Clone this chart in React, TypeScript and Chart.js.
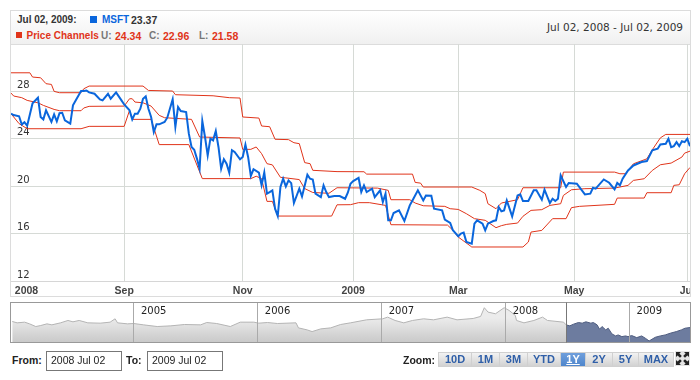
import React, { useEffect, useRef } from "react";
import { Chart, registerables } from "chart.js";

Chart.register(...registerables);

// trading-day index (0 = Jul 02 2008, 252 = Jul 02 2009) and price
const msftDays = [0,1,3,4,5,6,8,10,11,12,13,15,16,17,18,19,20,22,23,24,26,27,28,29,31,33,34,36,37,39,41,42,44,45,46,47,48,49,50,51,52,53,54,55,57,58,60,61,62,63,65,66,67,68,69,70,71,72,73,74,75,76,77,78,79,80,81,82,83,85,86,87,88,89,90,92,93,94,95,96,97,98,99,100,101,102,103,104,105,107,108,110,111,112,113,115,116,117,118,120,122,124,125,126,127,129,130,131,132,134,135,137,138,139,140,141,142,144,146,148,149,151,153,154,156,157,160,161,163,164,166,167,168,169,171,172,173,175,176,177,179,180,181,182,183,184,186,188,189,190,192,194,195,197,198,200,201,202,203,204,206,207,210,213,215,216,217,220,222,224,225,226,227,229,231,234,236,238,240,241,243,244,245,246,247,248,249,250,251,252];
const msftPrice = [26.12,26.0,25.9,25.2,25.4,25.1,27.0,27.47,25.84,25.64,26.4,25.42,26.06,25.47,26.17,26.2,25.56,25.28,26.82,27.24,28.03,28.03,28.08,27.92,27.8,27.33,27.24,27.8,27.38,27.92,27.24,26.9,26.4,25.64,26.12,26.12,26.54,27.38,27.58,26.54,25.84,24.57,25.22,25.22,25.42,25.78,27.33,25.0,26.68,26.34,26.26,24.43,23.31,23.08,22.33,21.48,25.5,24.15,22.6,24.01,23.87,24.66,23.31,21.48,22.27,21.9,21.15,23.03,22.89,22.27,22.47,23.5,22.47,20.87,21.43,21.15,20.08,21.15,19.37,19.5,19.65,18.1,17.48,19.93,20.63,19.98,20.49,20.26,18.58,19.79,19.14,20.97,20.63,20.57,19.37,19.08,20.07,19.51,19.08,19.17,19.17,18.94,19.45,20.21,20.43,20.71,19.51,20.07,19.51,19.79,19.08,19.65,18.66,19.37,17.12,17.12,17.74,17.96,17.06,18.38,18.8,19.65,18.8,19.22,19.2,18.1,17.96,17.18,16.9,16.28,15.77,16.0,16.08,15.3,15.15,16.84,17.12,16.84,16.28,16.84,17.06,17.12,18.24,17.88,17.96,18.8,17.45,19.22,19.31,18.75,18.75,19.65,19.65,18.86,19.71,18.58,18.94,18.75,18.94,20.91,19.93,20.27,20.21,19.31,19.37,19.87,19.79,20.57,20.29,19.73,20.27,20.07,20.63,21.33,21.75,22.04,22.12,23.02,23.16,23.52,23.58,24.0,23.3,23.38,23.72,23.38,23.8,23.72,24.0,23.37];

const upperDays = [0,7,8,11,13,15,16,18,26,27,29,49,51,60,61,75,81,85,86,92,93,96,98,103,105,107,109,111,112,121,131,132,149,150,152,153,171,174,176,177,180,182,188,190,204,205,224,226,228,231,236,238,241,243,252];
const upperPrice = [29.57,29.57,29.21,29.15,28.65,28.59,28.0,27.89,27.89,28.22,28.45,28.45,28.08,28.03,27.72,27.63,27.47,27.44,25.84,25.75,25.08,25.02,23.96,23.93,23.67,23.59,21.99,21.9,21.34,21.23,21.22,21.02,21.02,20.32,20.26,19.93,19.93,19.65,19.37,18.52,18.1,18.58,18.86,19.87,19.87,21.19,21.19,21.05,21.05,21.89,22.31,23.07,24.08,24.37,24.37];

const centerDays = [0,1,4,6,10,12,16,18,26,27,29,42,44,45,46,49,52,55,57,67,70,85,86,89,91,93,95,97,100,102,107,109,112,118,121,136,140,141,148,150,153,161,163,166,169,172,176,180,182,184,188,190,193,197,200,204,205,208,213,224,229,231,235,238,241,245,249,250,252];
const centerPrice = [27.86,27.61,27.47,27.24,27.04,26.82,26.48,26.37,26.37,26.6,26.74,26.76,27.38,27.38,27.1,27.04,26.76,25.98,25.78,25.64,24.15,24.07,23.11,23.11,23.31,22.75,21.9,21.8,20.75,20.7,20.56,19.8,19.47,19.4,19.87,19.84,19.65,18.86,18.86,18.58,18.35,18.3,18.1,18.04,17.68,17.26,17.12,16.5,16.67,16.78,16.89,17.46,17.96,18.02,18.38,18.52,19.22,19.7,19.79,19.84,20.07,20.49,20.63,21.33,21.81,21.95,22.46,22.79,22.96];

const lowerDays = [0,3,6,26,29,42,44,45,52,55,66,71,89,91,93,95,97,99,119,121,126,129,133,139,141,162,164,166,171,190,192,193,197,201,206,208,211,224,225,235,236,245,246,248,250,252];
const lowerPrice = [26.12,25.28,24.85,24.85,25.05,25.05,26.4,25.64,25.64,23.51,23.51,20.64,20.64,20.84,20.64,18.72,18.72,17.48,17.48,18.43,18.44,18.61,18.61,18.38,16.75,16.72,16.28,15.71,14.87,14.87,15.29,16.13,16.27,17.26,17.26,18.19,18.3,18.47,19.0,19.0,19.45,19.45,20.07,20.12,21.05,21.58];

// x axis: position of each tick in trading days and its label
const monthTickDays = [5.75,42,86,127,166,209,251];
const monthTickLabels = ["2008","Sep","Nov","2009","Mar","May","Jul"];
const priceTicks = [12,16,20,24,28];

// overview strip: whole history, in fractional years
const navYears = [2004.02,2004.06,2004.12,2004.16,2004.21,2004.25,2004.30,2004.34,2004.41,2004.47,2004.51,2004.56,2004.63,2004.73,2004.81,2004.85,2004.87,2004.95,2005.0,2005.08,2005.19,2005.30,2005.41,2005.54,2005.59,2005.67,2005.78,2005.86,2005.97,2006.01,2006.08,2006.16,2006.31,2006.33,2006.40,2006.44,2006.51,2006.59,2006.67,2006.75,2006.88,2007.01,2007.05,2007.11,2007.18,2007.25,2007.34,2007.42,2007.53,2007.61,2007.74,2007.80,2007.83,2007.86,2007.92,2007.99,2008.03,2008.08,2008.09,2008.15,2008.23,2008.30,2008.34,2008.47,2008.49,2008.52,2008.55,2008.59,2008.62,2008.65,2008.69,2008.71,2008.74,2008.76,2008.78,2008.81,2008.83,2008.86,2008.89,2008.91,2008.94,2008.97,2008.99,2009.02,2009.06,2009.10,2009.13,2009.16,2009.21,2009.25,2009.29,2009.33,2009.38,2009.42,2009.45,2009.49];
const navPrices = [27.83,26.96,27.39,26.3,24.57,25.22,26.3,25.65,26.96,28.48,27.61,28.48,26.96,26.74,27.39,29.57,26.96,26.3,26.52,25.65,24.57,25.0,25.87,25.65,27.17,26.52,24.57,27.39,27.39,26.74,27.17,26.52,26.96,23.7,22.39,21.3,23.04,23.7,25.87,26.96,28.91,29.57,30.65,28.48,26.96,28.48,29.57,28.91,30.65,28.91,29.78,31.09,36.74,33.91,32.83,36.74,35.0,31.74,28.48,26.96,28.48,30.65,28.48,27.39,25.65,25.0,26.09,27.17,26.74,27.61,26.74,27.17,25.65,22.83,24.57,22.39,23.48,19.78,18.48,19.13,18.04,18.48,18.04,18.7,17.39,18.48,16.96,15.22,17.61,18.48,19.13,20.22,21.3,22.39,23.48,23.91];
const navYearTicks = [2005,2006,2007,2008,2009];
const selectionStart = 2008.49;

const rangeButtons = ["10D","1M","3M","YTD","1Y","2Y","5Y","MAX"];
const rangeButtonEdges = [438,472,500,528,561,586,613,639,674];
const activeRange = "1Y";

const RED = "#e0341a";
const BLUE = "#0a66dc";
const GRID = "#d6dad6";
const SANS = '"Liberation Sans", Arial, sans-serif';
const WIDE = '"DejaVu Sans", Verdana, sans-serif';

const pairs = (xs: number[], ys: number[]) => xs.map((x, i) => ({ x, y: ys[i] }));
const noPadding = (s: any) => {
  s.paddingLeft = 0;
  s.paddingRight = 0;
  s.paddingTop = 0;
  s.paddingBottom = 0;
};

function Label(p: { x: number; y: number; c?: string; b?: boolean; s?: number; f?: string; r?: number; children: React.ReactNode }) {
  const st: React.CSSProperties = {
    position: "absolute",
    top: p.y,
    lineHeight: "14px",
    height: 14,
    whiteSpace: "nowrap",
    color: p.c || "#333",
    fontWeight: p.b ? 700 : 400,
    fontSize: p.s || 10,
    fontFamily: p.f || SANS,
  };
  if (p.r !== undefined) st.right = 700 - p.r;
  else st.left = p.x;
  return <div style={st}>{p.children}</div>;
}

const Box = (p: { x: number; y: number; w: number; h: number; style?: React.CSSProperties }) => (
  <div style={{ position: "absolute", left: p.x, top: p.y, width: p.w, height: p.h, boxSizing: "border-box", ...p.style }} />
);

export default function App() {
  const mainRef = useRef<HTMLCanvasElement>(null);
  const navRef = useRef<HTMLCanvasElement>(null);

  useEffect(() => {
    const line = (label: string, xs: number[], ys: number[], color: string, width: number) => ({
      label,
      data: pairs(xs, ys),
      borderColor: color,
      borderWidth: width,
      pointRadius: 0,
      tension: 0,
      fill: false,
    });

    const main = new Chart(mainRef.current!, {
      type: "line",
      data: {
        datasets: [
          line("MSFT", msftDays, msftPrice, BLUE, 2),
          line("Upper", upperDays, upperPrice, RED, 1),
          line("Center", centerDays, centerPrice, RED, 1),
          line("Lower", lowerDays, lowerPrice, RED, 1),
        ],
      },
      options: {
        animation: false,
        responsive: false,
        parsing: false,
        normalized: true,
        layout: { padding: 0, autoPadding: false },
        plugins: { legend: { display: false }, tooltip: { enabled: false } },
        scales: {
          x: {
            type: "linear",
            min: 0,
            max: 252,
            afterFit: (s: any) => { s.height = 15; noPadding(s); },
            afterBuildTicks: (s: any) => { s.ticks = monthTickDays.map((value) => ({ value })); },
            grid: {
              color: (ctx: any) => (ctx.index === 0 ? "rgba(0,0,0,0)" : GRID),
              drawTicks: false,
            },
            border: { display: false },
            ticks: {
              autoSkip: false,
              maxRotation: 0,
              padding: 4,
              color: "#444",
              font: { family: SANS, size: 10.5, weight: "bold" },
              callback: (_v: any, i: number) => monthTickLabels[i],
            },
          },
          y: {
            type: "linear",
            min: 12,
            max: 32,
            afterFit: (s: any) => { s.width = 0; noPadding(s); },
            afterBuildTicks: (s: any) => { s.ticks = priceTicks.map((value) => ({ value })); },
            grid: { color: GRID, drawTicks: false },
            border: { display: false },
            ticks: {
              mirror: true,
              padding: 6,
              labelOffset: -6,
              color: "#333",
              font: { family: WIDE, size: 10 },
            },
          },
        },
      },
    } as any);

    const navCtx = navRef.current!.getContext("2d")!;
    const grey = navCtx.createLinearGradient(0, 15, 0, 40);
    grey.addColorStop(0, "#ececec");
    grey.addColorStop(1, "#c8c8c8");

    const splitAt = navYears.indexOf(selectionStart);
    const nav = new Chart(navRef.current!, {
      type: "line",
      data: {
        datasets: [
          {
            label: "History",
            data: pairs(navYears.slice(0, splitAt + 1), navPrices.slice(0, splitAt + 1)),
            borderColor: "#b4b4b4",
            borderWidth: 1,
            backgroundColor: grey,
            fill: "start",
            pointRadius: 0,
            tension: 0,
          },
          {
            label: "Selected",
            data: pairs(navYears.slice(splitAt), navPrices.slice(splitAt)),
            borderColor: "#4f5d80",
            borderWidth: 1,
            backgroundColor: "#6d7c9f",
            fill: "start",
            pointRadius: 0,
            tension: 0,
          },
        ],
      },
      options: {
        animation: false,
        responsive: false,
        parsing: false,
        layout: { padding: 0, autoPadding: false },
        plugins: { legend: { display: false }, tooltip: { enabled: false } },
        scales: {
          x: {
            type: "linear",
            position: "top",
            min: 2004.01,
            max: 2009.49,
            afterFit: (s: any) => { s.height = 0; noPadding(s); },
            afterBuildTicks: (s: any) => { s.ticks = navYearTicks.map((value) => ({ value })); },
            grid: { color: "#aaaaaa", drawTicks: false, z: 1 },
            border: { display: false },
            ticks: {
              mirror: true,
              autoSkip: false,
              maxRotation: 0,
              padding: 2,
              labelOffset: 20,
              color: "#222",
              z: 2,
              font: { family: WIDE, size: 10 },
              callback: (v: any) => String(v),
            },
          },
          y: { type: "linear", display: false, min: 13.9, max: 39.8 },
        },
      },
    } as any);

    return () => {
      main.destroy();
      nav.destroy();
    };
  }, []);

  return (
    <div style={{ position: "absolute", left: 0, top: 0, width: 700, height: 380, overflow: "hidden", background: "#fff" }}>
      {/* title bar */}
      <Box x={10} y={10} w={681} h={35} style={{ border: "1px solid #dcdcdc", background: "linear-gradient(#ffffff,#f0f0f0)" }} />
      <Label x={17} y={13} b c="#333">Jul 02, 2009:</Label>
      <Box x={90} y={16} w={7} h={7} style={{ background: BLUE }} />
      <Label x={102} y={13} b c={BLUE}>MSFT</Label>
      <Label x={131} y={13} b c="#333" s={10.5}>23.37</Label>
      <Box x={16} y={32} w={6} h={6} style={{ background: RED }} />
      <Label x={26.5} y={29} b c={RED}>Price Channels</Label>
      <Label x={101} y={29} b c="#777">U:</Label>
      <Label x={115} y={29} b c={RED} s={10.5}>24.34</Label>
      <Label x={149} y={29} b c="#777">C:</Label>
      <Label x={163} y={29} b c={RED} s={10.5}>22.96</Label>
      <Label x={199} y={29} b c="#777">L:</Label>
      <Label x={212} y={29} b c={RED} s={10.5}>21.58</Label>
      <Label x={0} r={683} y={20} c="#333" s={10.5} f={WIDE}>Jul 02, 2008 - Jul 02, 2009</Label>

      {/* main plot frame */}
      <Box x={10} y={44} w={681} h={253} style={{ border: "1px solid #dcdcdc", borderTop: "none" }} />
      <canvas ref={mainRef} width={679} height={252} style={{ position: "absolute", left: 11, top: 44 }} />
      <Box x={11} y={281} w={679} h={1} style={{ background: "#d6d6d6" }} />

      {/* overview strip */}
      <Box x={566} y={303} w={124} h={40} style={{ background: "#fff" }} />
      <canvas ref={navRef} width={679} height={40} style={{ position: "absolute", left: 11, top: 303 }} />
      <Box x={10} y={302} w={557} h={41} style={{ border: "1px solid #999" }} />
      <Box x={566} y={302} w={125} h={41} style={{ borderTop: "1px solid #999", borderRight: "1px solid #999", borderBottom: "1px solid #999", borderLeft: "1px solid #777" }} />

      {/* date range inputs */}
      <Label x={12} y={353} b s={10.5} c="#222">From:</Label>
      <Box x={46} y={351} w={76} h={20} style={{ border: "1px solid #777" }} />
      <Label x={51} y={353} s={10.5} c="#222">2008 Jul 02</Label>
      <Label x={126} y={353} b s={10.5} c="#222">To:</Label>
      <Box x={147} y={351} w={76} h={20} style={{ border: "1px solid #777" }} />
      <Label x={152} y={353} s={10.5} c="#222">2009 Jul 02</Label>

      {/* zoom buttons */}
      <Label x={403} y={353} b s={10.5} c="#222">Zoom:</Label>
      {rangeButtons.map((b, i) => {
        const left = rangeButtonEdges[i];
        const w = rangeButtonEdges[i + 1] - left;
        const on = b === activeRange;
        return (
          <div
            key={b}
            style={{
              position: "absolute",
              left,
              top: 352,
              width: w,
              height: 15,
              boxSizing: "border-box",
              border: "1px solid #d0d0d0",
              borderLeftWidth: i === 0 ? 1 : 0,
              background: on ? "linear-gradient(#6f9fdc,#4f86cc)" : "linear-gradient(#f2f2f2,#d2d2d2)",
              color: on ? "#fff" : "#2f5fa8",
              textDecoration: on ? "underline" : "none",
              font: `700 11px/13px ${SANS}`,
              textAlign: "center",
            }}
          >
            {b}
          </div>
        );
      })}
      <svg style={{ position: "absolute", left: 675, top: 351 }} width={15} height={15} viewBox="0 0 15 15">
        <rect x={0} y={0} width={15} height={15} fill="#e4e4e4" />
        <g fill="#222">
          <path d="M1 1h5L4.4 2.6 6.8 5 5 6.8 2.6 4.4 1 6z" />
          <path d="M14 1v5l-1.6-1.6L10 6.8 8.2 5l2.4-2.4L9 1z" />
          <path d="M1 14V9l1.6 1.6L5 8.2 6.8 10l-2.4 2.4L6 14z" />
          <path d="M14 14H9l1.6-1.6L8.2 10 10 8.2l2.4 2.4L14 9z" />
        </g>
      </svg>
    </div>
  );
}
